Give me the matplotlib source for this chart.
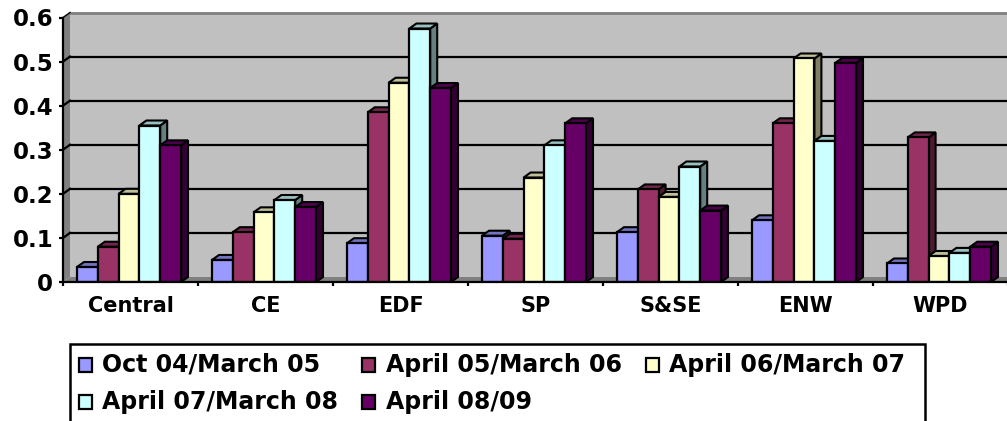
import numpy as np
import matplotlib
matplotlib.use("Agg")
import matplotlib.pyplot as plt
from matplotlib.patches import Polygon, Rectangle

categories = ["Central", "CE", "EDF", "SP", "S&SE", "ENW", "WPD"]
series_names = ["Oct 04/March 05", "April 05/March 06", "April 06/March 07",
                "April 07/March 08", "April 08/09"]
oct04 = [0.034, 0.05, 0.088, 0.105, 0.113, 0.14, 0.042]
apr05 = [0.08, 0.113, 0.385, 0.098, 0.21, 0.36, 0.328]
apr06 = [0.2, 0.158, 0.452, 0.237, 0.193, 0.507, 0.059]
apr07 = [0.355, 0.186, 0.575, 0.31, 0.262, 0.32, 0.066]
apr08 = [0.31, 0.17, 0.44, 0.36, 0.162, 0.497, 0.08]
series = [oct04, apr05, apr06, apr07, apr08]
colors = ["#9999FF", "#993366", "#FFFFCC", "#CCFFFF", "#660066"]
yticks = [0, 0.1, 0.2, 0.3, 0.4, 0.5, 0.6]
ytick_labels = ["0", "0.1", "0.2", "0.3", "0.4", "0.5", "0.6"]

W, H = 1007, 421
plt.rcParams["font.family"] = "DejaVu Sans"
plt.rcParams["font.weight"] = "bold"
fig = plt.figure(figsize=(W / 100, H / 100), dpi=100)

# front plane of the fake 3d box, in pixels
left, right, top, bottom = 63, 1008, 17.5, 282
ax = fig.add_axes([left / W, 1 - bottom / H, (right - left) / W, (bottom - top) / H])
ax.set_xlim(0, 7)
ax.set_ylim(0, 0.6)
ax.patch.set_visible(False)

# depth offset of the 3d look
dx = 7 / 135
dy = 5 / 441


def shade(color, k):
    r, g, b = matplotlib.colors.to_rgb(color)
    return (r * k, g * k, b * k)


# walls and floor
ax.add_patch(Rectangle((dx, dy), 7, 0.6, fc="#C0C0C0", ec="none", zorder=1, clip_on=False))
ax.add_patch(Polygon([(0, 0), (dx, dy), (dx, 0.6 + dy), (0, 0.6)], fc="#808080", ec="none",
                     zorder=1, clip_on=False))
ax.add_patch(Polygon([(0, 0), (dx, dy), (7, dy), (7, 0)], fc="#808080", ec="none",
                     zorder=1, clip_on=False))
ax.plot([dx, 7], [0.6 + dy, 0.6 + dy], color="#808080", lw=2, zorder=1, clip_on=False)

for v in yticks[1:-1]:
    ax.plot([dx, 7], [v + dy, v + dy], color="black", lw=1.6, zorder=2)
    ax.plot([0, dx], [v, v + dy], color="black", lw=1.6, zorder=2)
ax.plot([0, dx], [0.6, 0.6 + dy], color="black", lw=1.0, zorder=2, clip_on=False)

# bars, left to right so each one covers the side of the previous one
bar_w = 20.8 / 135
gap = 14 / 135
z = 3
for c in range(len(categories)):
    for s, vals in enumerate(series):
        x0 = c + gap + s * bar_w
        v = vals[c]
        x1 = x0 + bar_w
        ax.add_patch(Polygon([(x1, 0), (x1 + dx, dy), (x1 + dx, v + dy), (x1, v)],
                             fc=shade(colors[s], 0.5), ec="black", lw=1.5, zorder=z))
        ax.add_patch(Polygon([(x0, v), (x0 + dx, v + dy), (x1 + dx, v + dy), (x1, v)],
                             fc=shade(colors[s], 0.75), ec="black", lw=1.5, zorder=z))
        ax.bar(x0, v, width=bar_w, align="edge", color=colors[s], edgecolor="black",
               linewidth=1.6, zorder=z + 0.5)
        z += 1

for name in ["top", "right"]:
    ax.spines[name].set_visible(False)
for name in ["left", "bottom"]:
    ax.spines[name].set_linewidth(1.6)
    ax.spines[name].set_zorder(200)

ax.set_yticks(yticks)
ax.set_yticklabels(ytick_labels, fontsize=16.5, fontweight="bold")
ax.tick_params(axis="y", length=3, width=1.6, pad=4)
ax.set_xticks(np.arange(8))
ax.set_xticklabels([])
ax.tick_params(axis="x", which="major", length=3, width=1.6)
ax.set_xticks(np.arange(7) + 0.5, minor=True)
ax.set_xticklabels(categories, minor=True, fontsize=15, fontweight="bold")
ax.tick_params(axis="x", which="minor", length=0, pad=10)

# legend box runs off the bottom of the picture
leg = fig.add_axes([0, 0, 1, 1], zorder=5)
leg.set_xlim(0, W)
leg.set_ylim(H, 0)
leg.axis("off")
leg.add_patch(Rectangle((70, 344), 855, 90, fc="white", ec="black", lw=1.8))
swatch_x = [79, 362, 646, 79, 362]
text_x = [102, 386, 669, 102, 386]
rows_y = [365, 402]
row_of = [0, 0, 0, 1, 1]
for i, name in enumerate(series_names):
    y = rows_y[row_of[i]]
    leg.add_patch(Rectangle((swatch_x[i], y - 7), 13, 14, fc=colors[i], ec="black", lw=1.6))
    leg.text(text_x[i], y, name, fontsize=17, fontweight="bold", va="center", ha="left")

fig.savefig("out.png", dpi=100)
